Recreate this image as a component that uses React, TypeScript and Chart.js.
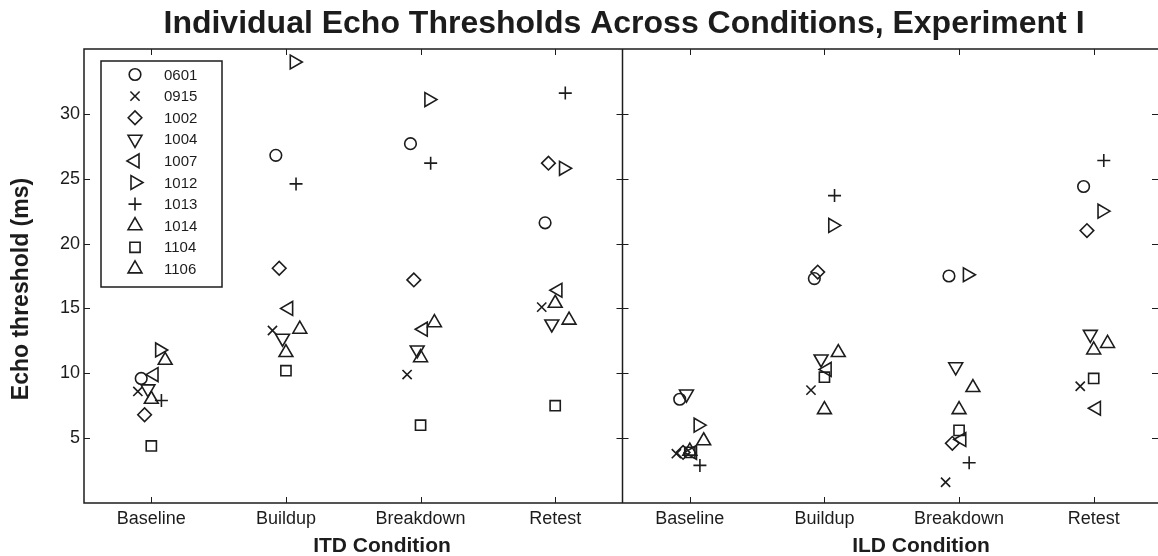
import React, { useEffect, useRef } from 'react';
import { Chart, registerables } from 'chart.js';
import { drawPoint } from 'chart.js/helpers';

Chart.register(...registerables);

// ---- data ----
const CATEGORIES = ['Baseline', 'Buildup', 'Breakdown', 'Retest', 'Baseline', 'Buildup', 'Breakdown', 'Retest'];
const CONDITIONS = ['ITD Condition', 'ILD Condition'];
const TITLE = 'Individual Echo Thresholds Across Conditions, Experiment I';
const Y_LABEL = 'Echo threshold (ms)';
const Y_TICKS = [5, 10, 15, 20, 25, 30];
const SUBJECTS = ['0601', '0915', '1002', '1004', '1007', '1012', '1013', '1014', '1104', '1106'];

// values per subject: ITD Baseline, Buildup, Breakdown, Retest, ILD Baseline, Buildup, Breakdown, Retest
const S0601 = [9.6, 26.8, 27.7, 21.6, 8.0, 17.3, 17.5, 24.4];
const S0915 = [8.6, 13.3, 9.9, 15.1, 3.8, 8.7, 1.6, 9.0];
const S1002 = [6.8, 18.1, 17.2, 26.2, 3.9, 17.8, 4.6, 21.0];
const S1004 = [8.8, 12.7, 11.8, 13.8, 8.4, 11.1, 10.5, 13.0];
const S1007 = [9.9, 15.0, 13.4, 16.4, 3.9, 10.3, 4.9, 7.3];
const S1012 = [11.8, 34.0, 31.1, 25.8, 6.0, 21.4, 17.6, 22.5];
const S1013 = [7.9, 24.6, 26.2, 31.6, 2.9, 23.7, 3.1, 26.4];
const S1014 = [8.0, 11.6, 11.2, 15.4, 4.0, 7.2, 7.2, 11.8];
const S1104 = [4.4, 10.2, 6.0, 7.5, 3.9, 9.7, 5.6, 9.6];
const S1106 = [11.0, 13.4, 13.9, 14.1, 4.8, 11.6, 8.9, 12.3];
const SERIES = [S0601, S0915, S1002, S1004, S1007, S1012, S1013, S1014, S1104, S1106];

// horizontal jitter of each subject within a category (category units)
const JITTER = [-0.075, -0.1, -0.05, -0.025, 0.02, 0.062, 0.075, 0, 0, 0.103];

// ---- styles ----
const INK = '#1c1c1c';
const FONT = '"Liberation Sans", Arial, Helvetica, sans-serif';
const MARKERS = [
  { style: 'circle', rotation: 0, radius: 5.8 },
  { style: 'crossRot', rotation: 0, radius: 6.5 },
  { style: 'rectRot', rotation: 0, radius: 6.8 },
  { style: 'triangle', rotation: 180, radius: 8 },
  { style: 'triangle', rotation: 270, radius: 8 },
  { style: 'triangle', rotation: 90, radius: 8 },
  { style: 'cross', rotation: 0, radius: 6.5 },
  { style: 'triangle', rotation: 0, radius: 8 },
  { style: 'rect', rotation: 0, radius: 7.2 },
  { style: 'triangle', rotation: 0, radius: 8 },
];

const CANVAS_W = 1161;
const CANVAS_H = 556;

const framePlugin = {
  id: 'frame',
  afterDraw(chart: any) {
    const { ctx, chartArea } = chart;
    const { left, right, top, bottom } = chartArea;
    const xs = chart.scales.x;
    const ys = chart.scales.y;
    const divX = xs.getPixelForValue(3.5);
    const T = 6;
    ctx.save();
    ctx.strokeStyle = INK;
    ctx.lineWidth = 1.5;
    ctx.strokeRect(left, top, right - left, bottom - top);
    ctx.beginPath();
    ctx.moveTo(divX, top);
    ctx.lineTo(divX, bottom);
    ctx.stroke();
    ctx.lineWidth = 1;
    ctx.beginPath();
    for (let i = 0; i < CATEGORIES.length; i++) {
      const px = Math.round(xs.getPixelForValue(i)) + 0.5;
      ctx.moveTo(px, top);
      ctx.lineTo(px, top + T);
      ctx.moveTo(px, bottom);
      ctx.lineTo(px, bottom - T);
    }
    for (const v of Y_TICKS) {
      const py = Math.round(ys.getPixelForValue(v)) + 0.5;
      ctx.moveTo(left, py);
      ctx.lineTo(left + T, py);
      ctx.moveTo(divX - T, py);
      ctx.lineTo(divX + T, py);
      ctx.moveTo(right, py);
      ctx.lineTo(right - T - 3, py);
    }
    ctx.stroke();

    // texts
    ctx.fillStyle = INK;
    ctx.textAlign = 'center';
    ctx.textBaseline = 'alphabetic';
    ctx.font = `bold 32px ${FONT}`;
    ctx.fillText(TITLE, 624, 33);

    ctx.font = `bold 21px ${FONT}`;
    ctx.fillText(CONDITIONS[0], 382, 552);
    ctx.fillText(CONDITIONS[1], 921, 552);

    ctx.save();
    ctx.translate(28, 289);
    ctx.rotate(-Math.PI / 2);
    ctx.font = `bold 23px ${FONT}`;
    ctx.fillText(Y_LABEL, 0, 0);
    ctx.restore();

    // legend
    const bx = 101, by = 61, bw = 121, bh = 226;
    ctx.fillStyle = '#ffffff';
    ctx.fillRect(bx, by, bw, bh);
    ctx.lineWidth = 1.5;
    ctx.strokeStyle = INK;
    ctx.strokeRect(bx, by, bw, bh);
    ctx.font = `15px ${FONT}`;
    ctx.textAlign = 'left';
    ctx.textBaseline = 'middle';
    for (let i = 0; i < SUBJECTS.length; i++) {
      const ry = 74.5 + i * 21.6;
      const m = MARKERS[i];
      ctx.lineWidth = 1.6;
      ctx.strokeStyle = INK;
      ctx.fillStyle = 'rgba(0,0,0,0)';
      drawPoint(ctx, { pointStyle: m.style, rotation: m.rotation, radius: m.radius, borderWidth: 1.6 }, 135, ry);
      ctx.fillStyle = INK;
      ctx.fillText(SUBJECTS[i], 164, ry + 1);
    }
    ctx.restore();
  },
};

export default function App() {
  const ref = useRef<HTMLCanvasElement | null>(null);
  useEffect(() => {
    if (!ref.current) return;
    const datasets = SUBJECTS.map((name, s) => ({
      label: name,
      data: SERIES[s].map((v, i) => ({ x: i + JITTER[s], y: v })),
      pointStyle: MARKERS[s].style as any,
      rotation: MARKERS[s].rotation,
      pointRadius: MARKERS[s].radius,
      pointHoverRadius: MARKERS[s].radius,
      borderColor: INK,
      backgroundColor: 'rgba(0,0,0,0)',
      pointBorderWidth: 1.6,
      showLine: false,
    }));
    const chart = new Chart(ref.current, {
      type: 'scatter',
      data: { datasets },
      options: {
        animation: false,
        responsive: false,
        devicePixelRatio: 1,
        layout: { autoPadding: false, padding: { top: 49, left: 0, right: 0, bottom: 0 } },
        plugins: { legend: { display: false }, tooltip: { enabled: false }, title: { display: false } },
        scales: {
          x: {
            type: 'linear',
            min: -0.5,
            max: 7.5,
            grid: { display: false, drawTicks: false },
            border: { display: false },
            afterBuildTicks: (scale: any) => {
              scale.ticks = CATEGORIES.map((_, i) => ({ value: i }));
            },
            afterFit: (scale: any) => {
              scale.height = CANVAS_H - 503;
              scale.paddingLeft = 0;
              scale.paddingRight = 0;
            },
            ticks: {
              autoSkip: false,
              maxRotation: 0,
              padding: 5,
              color: INK,
              font: { family: FONT, size: 18 },
              callback: (v: any) => CATEGORIES[Math.round(Number(v))] ?? '',
            },
          },
          y: {
            type: 'linear',
            min: 0,
            max: 35,
            grid: { display: false, drawTicks: false },
            border: { display: false },
            afterBuildTicks: (scale: any) => {
              scale.ticks = Y_TICKS.map((v) => ({ value: v }));
            },
            afterFit: (scale: any) => {
              scale.width = 84;
              scale.paddingTop = 0;
              scale.paddingBottom = 0;
            },
            ticks: {
              padding: 4,
              color: INK,
              font: { family: FONT, size: 18 },
            },
          },
        },
      },
      plugins: [framePlugin],
    });
    return () => chart.destroy();
  }, []);
  return (
    <div style={{ position: 'absolute', left: 0, top: 0, width: 1158, height: CANVAS_H, overflow: 'hidden', background: '#fff' }}>
      <canvas ref={ref} width={CANVAS_W} height={CANVAS_H} style={{ display: 'block' }} />
    </div>
  );
}
